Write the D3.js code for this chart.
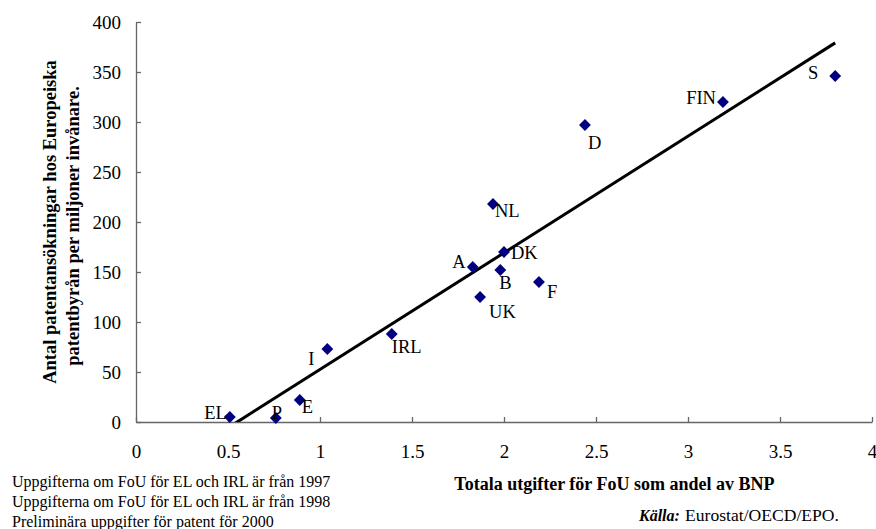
<!DOCTYPE html>
<html>
<head>
<meta charset="utf-8">
<script src="https://cdn.jsdelivr.net/npm/d3@7"></script>
<style>
  body { margin: 0; background: #fff; }
  text { font-family: "Liberation Serif", "Times New Roman", serif; fill: #000; }
</style>
</head>
<body>
<div id="chart"></div>
<script>
"use strict";

// countries and values
const countries = ["EL", "P", "E", "I", "IRL", "A", "DK", "B", "NL", "UK", "F", "D", "FIN", "S"];
const rdShare = [0.51, 0.76, 0.89, 1.04, 1.39, 1.83, 2.00, 1.98, 1.94, 1.87, 2.19, 2.44, 3.19, 3.80];
const patents = [5, 4, 22, 73, 88, 155, 170, 152, 218, 125, 140, 297, 320, 346];
const xTicks = [0, 0.5, 1, 1.5, 2, 2.5, 3, 3.5, 4];
const yTicks = [0, 50, 100, 150, 200, 250, 300, 350, 400];
const footnotes = [
	"Uppgifterna om FoU för EL och IRL är från 1997",
	"Uppgifterna om FoU för EL och IRL är från 1998",
	"Preliminära uppgifter för patent för 2000"
];

// where each label sits relative to its marker
const labelPlace = {
	EL: { dx: -3, dy: 2, anchor: "end" },
	P: { dx: -4, dy: 1, anchor: "start" },
	E: { dx: 2, dy: 13, anchor: "start" },
	I: { dx: -13, dy: 16, anchor: "end" },
	IRL: { dx: 0, dy: 19, anchor: "start" },
	A: { dx: -7, dy: 1, anchor: "end" },
	DK: { dx: 7, dy: 7, anchor: "start" },
	B: { dx: -1, dy: 19, anchor: "start" },
	NL: { dx: 2, dy: 13, anchor: "start" },
	UK: { dx: 9, dy: 21, anchor: "start" },
	F: { dx: 8, dy: 16, anchor: "start" },
	D: { dx: 3, dy: 24, anchor: "start" },
	FIN: { dx: -7, dy: 2, anchor: "end" },
	S: { dx: -17, dy: 3, anchor: "end" }
};

const W = 876, H = 529;
const margin = { top: 22, left: 136, right: 4, bottom: 107 };
const plotW = W - margin.left - margin.right;
const plotH = H - margin.top - margin.bottom;

const svg = d3.select("#chart").append("svg")
	.attr("width", W)
	.attr("height", H);

const g = svg.append("g").attr("transform", "translate(" + margin.left + "," + margin.top + ")");

const x = d3.scaleLinear().domain([0, 4]).range([0, plotW]);
const y = d3.scaleLinear().domain([0, 400]).range([plotH, 0]);

svg.append("defs").append("clipPath").attr("id", "plotClip")
	.append("rect").attr("width", plotW).attr("height", plotH);

// axes, ticks point inwards like the original
const xAxis = g.append("g")
	.attr("transform", "translate(0," + plotH + ")")
	.call(d3.axisBottom(x).tickValues(xTicks).tickFormat(d3.format("")).tickSizeInner(-5).tickSizeOuter(0).tickPadding(23));
const yAxis = g.append("g")
	.call(d3.axisLeft(y).tickValues(yTicks).tickFormat(d3.format("")).tickSizeInner(-5).tickSizeOuter(0).tickPadding(15));

[xAxis, yAxis].forEach(function (a) {
	a.select(".domain").attr("stroke", "#666").attr("stroke-width", 1.3);
	a.selectAll(".tick line").attr("stroke", "#666").attr("stroke-width", 1.3);
	a.selectAll(".tick text")
		.style("font-family", "'Liberation Serif', 'Times New Roman', serif")
		.style("font-size", "19px")
		.attr("fill", "#000");
});

// linear trend line (least squares) over the x range of the data
const points = countries.map(function (c, i) { return { name: c, x: rdShare[i], y: patents[i] }; });
const mx = d3.mean(points, function (d) { return d.x; });
const my = d3.mean(points, function (d) { return d.y; });
const slope = d3.sum(points, function (d) { return (d.x - mx) * (d.y - my); }) /
	d3.sum(points, function (d) { return (d.x - mx) * (d.x - mx); });
const intercept = my - slope * mx;
const xExt = d3.extent(rdShare);

g.append("line")
	.attr("clip-path", "url(#plotClip)")
	.attr("x1", x(xExt[0]))
	.attr("y1", y(intercept + slope * xExt[0]))
	.attr("x2", x(xExt[1]))
	.attr("y2", y(intercept + slope * xExt[1]))
	.attr("stroke", "#000")
	.attr("stroke-width", 3);

// markers
const diamond = d3.symbol().type(d3.symbolSquare).size(70);
g.selectAll("path.pt")
	.data(points)
	.enter()
	.append("path")
	.attr("class", "pt")
	.attr("d", diamond)
	.attr("transform", function (d) { return "translate(" + x(d.x) + "," + y(d.y) + ") rotate(45)"; })
	.attr("fill", "#000080");

// country labels
g.selectAll("text.lbl")
	.data(points)
	.enter()
	.append("text")
	.attr("class", "lbl")
	.attr("x", function (d) { return x(d.x) + labelPlace[d.name].dx; })
	.attr("y", function (d) { return y(d.y) + labelPlace[d.name].dy; })
	.attr("text-anchor", function (d) { return labelPlace[d.name].anchor; })
	.style("font-size", "18.5px")
	.text(function (d) { return d.name; });

// axis titles
svg.append("text")
	.attr("x", margin.left + x(2.6))
	.attr("y", 490)
	.attr("text-anchor", "middle")
	.style("font-size", "18px")
	.style("font-weight", "bold")
	.text("Totala utgifter för FoU som andel av BNP");

const yTitle = svg.append("text")
	.attr("transform", "translate(0," + (margin.top + plotH / 2) + ") rotate(-90)")
	.attr("text-anchor", "middle")
	.style("font-size", "18.5px")
	.style("font-weight", "bold");
yTitle.append("tspan").attr("x", 0).attr("y", 56).text("Antal patentansökningar hos Europeiska");
yTitle.append("tspan").attr("x", -4).attr("y", 79).text("patentbyrån per miljoner invånare.");

// footnotes
svg.selectAll("text.note")
	.data(footnotes)
	.enter()
	.append("text")
	.attr("class", "note")
	.attr("x", 12)
	.attr("y", function (d, i) { return 487 + i * 20; })
	.style("font-size", "16px")
	.text(function (d) { return d; });

// source
const src = svg.append("text")
	.attr("x", 639)
	.attr("y", 521)
	.style("font-size", "16px");
src.append("tspan").style("font-weight", "bold").style("font-style", "italic").text("Källa:");
src.append("tspan").attr("x", 685).style("font-size", "17.6px").text("Eurostat/OECD/EPO.");
</script>
</body>
</html>
